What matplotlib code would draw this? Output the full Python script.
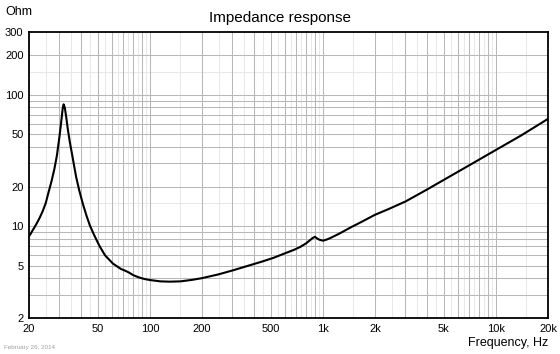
import numpy as np
import matplotlib
matplotlib.use("Agg")
import matplotlib.pyplot as plt

plt.rcParams['font.family'] = ['Liberation Sans', 'DejaVu Sans']

# impedance curve (Hz, Ohm)
freq = [20, 20.3, 21, 22, 23, 24, 25, 26, 27, 28, 29, 30, 30.7, 31.3, 31.7, 32.2,
        32.8, 33.5, 34.5, 35.5, 36.5, 37.5, 39, 41, 43, 45, 47.5, 51, 55, 61, 68, 72,
        76, 80, 86, 93, 100, 115, 130, 150, 175, 200, 250, 300, 380, 450, 520, 590,
        680, 740, 800, 840, 870, 899, 920, 950, 1000, 1050, 1100, 1250, 1430, 1700,
        2000, 2400, 3000, 4000, 5000, 7000, 10000, 14000, 20000]
ohm = [8.4, 8.6, 9.3, 10.3, 11.5, 13.0, 15.0, 18.3, 22, 27, 34.5, 48, 62, 78, 84.5, 80,
       68, 55, 43, 35, 28.5, 23.5, 18.8, 14.7, 12.0, 10.1, 8.6, 7.1, 6.0, 5.2, 4.72, 4.58,
       4.42, 4.24, 4.08, 3.96, 3.89, 3.8, 3.78, 3.8, 3.9, 4.02, 4.3, 4.6, 5.05, 5.4, 5.75,
       6.14, 6.6, 6.95, 7.4, 7.8, 8.1, 8.3, 8.1, 7.9, 7.75, 7.9, 8.1, 8.8, 9.7, 10.9,
       12.2, 13.5, 15.4, 19.0, 22.5, 29, 38, 49, 65.5]

xticks = [20, 50, 100, 200, 500, 1000, 2000, 5000, 10000, 20000]
xlabels = ['20', '50', '100', '200', '500', '1k', '2k', '5k', '10k', '20k']
yticks = [2, 5, 10, 20, 50, 100, 200, 300]
ylabels = ['2', '5', '10', '20', '50', '100', '200', '300']

fig = plt.figure(figsize=(5.6, 3.54), dpi=100)
ax = fig.add_axes([29 / 560, 36 / 354, 519 / 560, 286 / 354])
ax.set_xscale('log')
ax.set_yscale('log')
ax.set_xlim(20, 20000)
ax.set_ylim(2, 300)

# grid: grey lines at 1..9 per decade, light lines at the half steps
for dec in [10, 100, 1000, 10000]:
    for m in range(1, 10):
        f = m * dec
        if 20 < f < 20000:
            ax.axvline(f, color='#b8b8b8', lw=0.75, zorder=1)
        fh = (m + 0.5) * dec
        if 20 < fh < 20000:
            ax.axvline(fh, color='#e8e8e8', lw=0.75, zorder=0)
for dec in [1, 10, 100]:
    for m in range(1, 10):
        v = m * dec
        if 2 < v < 300:
            ax.axhline(v, color='#b8b8b8', lw=0.75, zorder=1)
    vh = 1.5 * dec
    if 2 < vh < 300:
        ax.axhline(vh, color='#e8e8e8', lw=0.75, zorder=0)

ax.plot(freq, ohm, color='black', lw=1.5, zorder=3, solid_joinstyle='round')

ax.set_xticks(xticks)
ax.set_xticklabels(xlabels)
ax.set_yticks(yticks)
ax.set_yticklabels(ylabels)
ax.minorticks_off()
ax.tick_params(length=0, labelsize=8, pad=4)
for s in ax.spines.values():
    s.set_linewidth(1.3)
    s.set_zorder(4)

fig.text(0.5, 1 - 18 / 354, 'Impedance response', ha='center', va='center', fontsize=11)
fig.text(5 / 560, 1 - 12 / 354, 'Ohm', ha='left', va='center', fontsize=9)
fig.text(548 / 560, 1 - 343 / 354, 'Frequency, Hz', ha='right', va='center', fontsize=9)
fig.text(4 / 560, 1 - 348 / 354, 'February 26, 2014', ha='left', va='center',
         fontsize=4.5, color='#a0a0a0')

fig.savefig('out.png', dpi=100)
